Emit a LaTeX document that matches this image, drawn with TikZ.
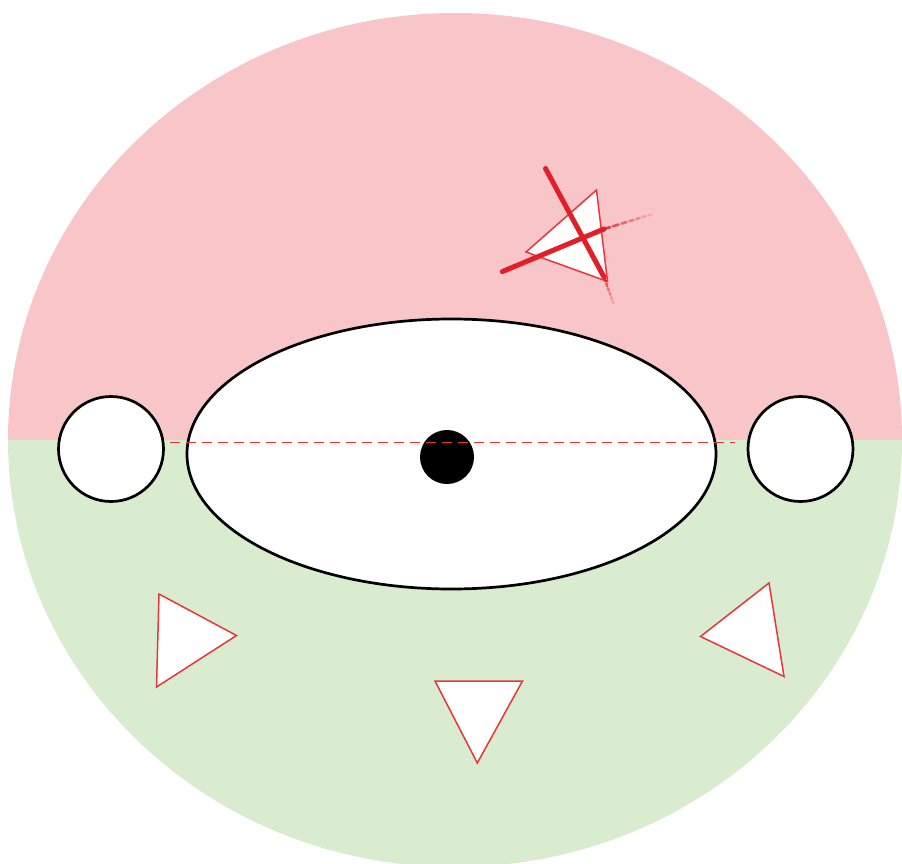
\documentclass[tikz,border=0pt]{standalone}
\usetikzlibrary{calc}
\definecolor{pinkbg}{RGB}{248,198,201}
\definecolor{greenbg}{RGB}{218,236,208}
\definecolor{redline}{RGB}{236,52,58}
\definecolor{crossred}{RGB}{228,30,40}
\begin{document}
\begin{tikzpicture}[x=1pt,y=-1pt,
  outline/.style={draw=black,line width=2.7pt,fill=white},
  tri/.style={draw=redline,line width=1.5pt,fill=white,line join=miter},
  crossline/.style={draw=crossred,line width=5pt,line cap=round},
  tailline/.style={draw=crossred,line width=2.6pt,line cap=round},
  midline/.style={draw=redline,line width=1.8pt,dash pattern=on 10pt off 6pt}]
\useasboundingbox (0,0) rectangle (902,864);
\clip (0,0) rectangle (902,864);
% background disc, split in two halves
\coordinate (bg) at (455,440);
\begin{scope}
  \clip (0,0) rectangle (902,440);
  \fill[pinkbg] (bg) ellipse [x radius=447, y radius=427];
\end{scope}
\begin{scope}
  \clip (0,440) rectangle (902,864);
  \fill[greenbg] (bg) ellipse [x radius=447, y radius=427];
\end{scope}
% side circles
\coordinate (lc) at (111,449);
\coordinate (rc) at (800.5,449);
\draw[outline] (lc) circle [radius=52.5];
\draw[outline] (rc) circle [radius=52.5];
% central ellipse and dot
\coordinate (eye) at (451.5,454);
\draw[outline] (eye) ellipse [x radius=264.5, y radius=135];
\coordinate (pupil) at (447,457);
\fill[black] (pupil) circle [radius=27];
% dashed horizontal line
\coordinate (dl) at (170,442.5);
\coordinate (dr) at (735,442.5);
\draw[midline] (dl) -- (dr);
% triangles
\coordinate (t1a) at (159,594); \coordinate (t1b) at (236.5,635.5); \coordinate (t1c) at (156.5,687);
\draw[tri] (t1a) -- (t1b) -- (t1c) -- cycle;
\coordinate (t2a) at (769,583); \coordinate (t2b) at (784,676.5); \coordinate (t2c) at (700.5,636.5);
\draw[tri] (t2a) -- (t2b) -- (t2c) -- cycle;
\coordinate (t3a) at (435,681); \coordinate (t3b) at (522.5,681); \coordinate (t3c) at (477.3,763);
\draw[tri] (t3a) -- (t3b) -- (t3c) -- cycle;
\coordinate (t4a) at (596.5,190); \coordinate (t4b) at (526,252); \coordinate (t4c) at (607.5,281.5);
\draw[tri] (t4a) -- (t4b) -- (t4c) -- cycle;
% crossing-out strokes
\coordinate (c1a) at (545.5,168.5); \coordinate (c1b) at (604,277); \coordinate (c1c) at (614,305);
\draw[crossline] (c1a) -- (c1b);
\foreach \s/\e/\o in {0/0.14/0.85,0.22/0.32/0.65,0.4/0.48/0.5,0.56/0.63/0.4,0.72/0.78/0.3,0.86/0.92/0.2}
  \draw[tailline,opacity=\o] ($(c1b)!\s!(c1c)$) -- ($(c1b)!\e!(c1c)$);
\coordinate (c2a) at (502.5,271.5); \coordinate (c2b) at (604,229); \coordinate (c2c) at (653,214);
\draw[crossline] (c2a) -- (c2b);
\foreach \s/\e/\o in {0/0.12/0.85,0.18/0.3/0.7,0.36/0.46/0.55,0.52/0.6/0.45,0.66/0.73/0.35,0.79/0.85/0.25,0.91/0.97/0.15}
  \draw[tailline,opacity=\o] ($(c2b)!\s!(c2c)$) -- ($(c2b)!\e!(c2c)$);
\end{tikzpicture}
\end{document}
